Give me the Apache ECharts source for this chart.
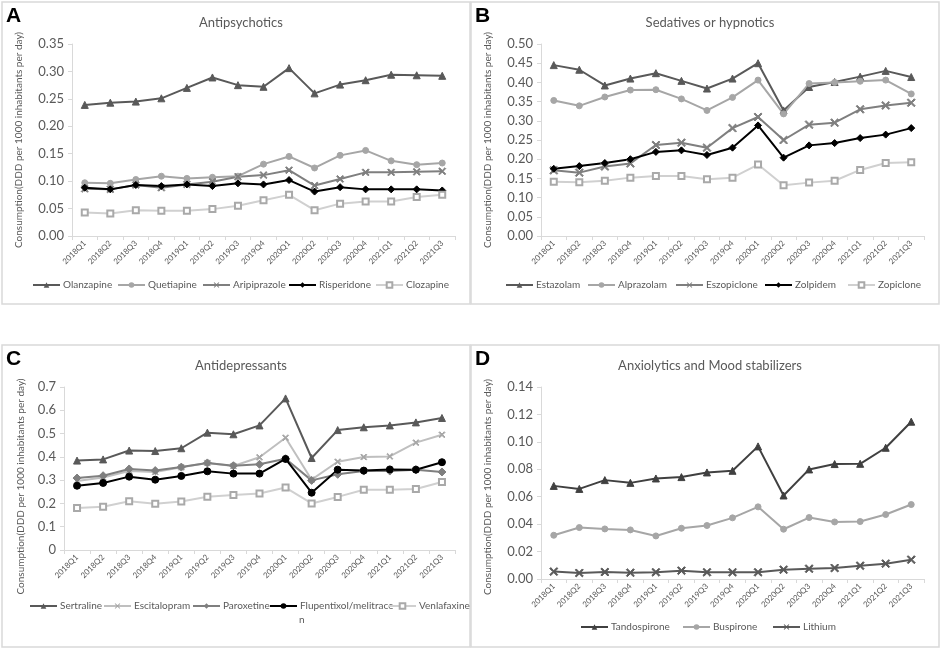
<!DOCTYPE html>
<html><head><meta charset="utf-8">
<script src="https://cdn.jsdelivr.net/npm/echarts@6/dist/echarts.min.js"></script>
<style>html,body{margin:0;padding:0;background:#fff}#c{width:941px;height:649px}</style>
</head><body><div id="c"></div>
<script>
const quarters = ['2018Q1','2018Q2','2018Q3','2018Q4','2019Q1','2019Q2','2019Q3','2019Q4','2020Q1','2020Q2','2020Q3','2020Q4','2021Q1','2021Q2','2021Q3'];

// Panel A: Antipsychotics
const olanzapine   = [0.239,0.243,0.245,0.251,0.270,0.289,0.275,0.272,0.306,0.260,0.276,0.284,0.294,0.293,0.292];
const quetiapine   = [0.097,0.096,0.103,0.109,0.105,0.107,0.109,0.131,0.145,0.124,0.147,0.156,0.137,0.130,0.133];
const aripiprazole = [0.086,0.085,0.093,0.088,0.094,0.099,0.108,0.111,0.120,0.092,0.104,0.116,0.116,0.117,0.118];
const risperidone  = [0.088,0.085,0.093,0.091,0.094,0.091,0.096,0.094,0.102,0.081,0.089,0.085,0.085,0.085,0.083];
const clozapine    = [0.043,0.041,0.047,0.046,0.046,0.049,0.055,0.065,0.075,0.047,0.059,0.063,0.063,0.071,0.075];

// Panel B: Sedatives or hypnotics
const estazolam   = [0.445,0.433,0.392,0.410,0.424,0.404,0.384,0.410,0.450,0.327,0.388,0.401,0.415,0.430,0.414];
const alprazolam  = [0.353,0.339,0.362,0.380,0.381,0.357,0.327,0.361,0.406,0.318,0.397,0.400,0.403,0.406,0.370];
const eszopiclone = [0.171,0.165,0.181,0.189,0.237,0.243,0.230,0.281,0.310,0.250,0.290,0.295,0.330,0.340,0.347];
const zolpidem    = [0.175,0.182,0.190,0.200,0.219,0.223,0.211,0.230,0.288,0.204,0.236,0.242,0.255,0.264,0.281];
const zopiclone   = [0.141,0.140,0.144,0.152,0.156,0.156,0.148,0.152,0.186,0.132,0.139,0.144,0.172,0.190,0.192];

// Panel C: Antidepressants
const sertraline   = [0.384,0.389,0.427,0.425,0.437,0.504,0.497,0.535,0.651,0.395,0.515,0.527,0.535,0.548,0.567];
const escitalopram = [0.296,0.311,0.339,0.335,0.355,0.374,0.361,0.398,0.482,0.302,0.379,0.399,0.402,0.461,0.495];
const paroxetine   = [0.309,0.319,0.348,0.341,0.356,0.374,0.362,0.368,0.392,0.299,0.325,0.339,0.339,0.345,0.335];
const flupentixol  = [0.276,0.288,0.315,0.302,0.318,0.338,0.328,0.328,0.391,0.246,0.345,0.341,0.346,0.345,0.377];
const venlafaxine  = [0.180,0.186,0.209,0.199,0.208,0.229,0.236,0.243,0.268,0.200,0.228,0.259,0.259,0.262,0.292];

// Panel D: Anxiolytics and Mood stabilizers
const tandospirone = [0.0679,0.0657,0.0721,0.0701,0.0733,0.0743,0.0777,0.0789,0.0967,0.0609,0.0799,0.0838,0.0840,0.0957,0.1147];
const buspirone    = [0.0319,0.0375,0.0365,0.0358,0.0314,0.0370,0.0390,0.0446,0.0526,0.0363,0.0448,0.0416,0.0419,0.0470,0.0543];
const lithium      = [0.0054,0.0044,0.0051,0.0046,0.0049,0.0061,0.0049,0.0049,0.0049,0.0068,0.0075,0.0080,0.0097,0.0112,0.0141];

const FONT = 'Lato, "Open Sans", sans-serif';
const TXT = '#595959';
const AXC = '#d9d9d9';
const CROSS = 'path://M0,1.2L1.2,0L5,3.8L8.8,0L10,1.2L6.2,5L10,8.8L8.8,10L5,6.2L1.2,10L0,8.8L3.8,5Z';

const panels = [
  {letter:'A', title:'Antipsychotics', box:[2,2,468,302], grid:{left:72,top:44,width:383,height:192},
   max:0.35, interval:0.05, dec:2, titleY:11, legendY:286, nameGap:48, namePad:[0,0,0,0],
   legendX:[32,117,202,288,375],
   series:[
     ['Olanzapine', olanzapine, '#595959','#595959','triangle',7],
     ['Quetiapine', quetiapine, '#a6a6a6','#a6a6a6','circle',6],
     ['Aripiprazole', aripiprazole, '#7f7f7f','#7f7f7f',CROSS,7],
     ['Risperidone', risperidone, '#000000','#000000','diamond',7],
     ['Clozapine', clozapine, '#d0d0d0','#a9a9a9','emptyRect',6]
   ]},
  {letter:'B', title:'Sedatives or hypnotics', box:[471,2,468,302], grid:{left:541,top:44,width:383,height:192},
   max:0.5, interval:0.05, dec:2, titleY:11, legendY:286, nameGap:48, namePad:[0,0,0,0],
   legendX:[505,587,675,764,847],
   series:[
     ['Estazolam', estazolam, '#595959','#595959','triangle',7],
     ['Alprazolam', alprazolam, '#a6a6a6','#a6a6a6','circle',6],
     ['Eszopiclone', eszopiclone, '#7f7f7f','#7f7f7f',CROSS,8],
     ['Zolpidem', zolpidem, '#000000','#000000','diamond',7],
     ['Zopiclone', zopiclone, '#d0d0d0','#a9a9a9','emptyRect',6]
   ]},
  {letter:'C', title:'Antidepressants', box:[2,345,468,302], grid:{left:64,top:387,width:391,height:163},
   max:0.7, interval:0.1, dec:1, titleY:354, legendY:607, nameGap:38, namePad:[0,36,0,0],
   legendX:[29,103,192,269,388],
   series:[
     ['Sertraline', sertraline, '#595959','#595959','triangle',7],
     ['Escitalopram', escitalopram, '#bfbfbf','#a6a6a6',CROSS,6],
     ['Paroxetine', paroxetine, '#7f7f7f','#7f7f7f','diamond',8],
     ['Flupentixol/melitracen', flupentixol, '#000000','#000000','circle',7],
     ['Venlafaxine', venlafaxine, '#d0d0d0','#a9a9a9','emptyRect',6]
   ]},
  {letter:'D', title:'Anxiolytics and Mood stabilizers', box:[471,345,468,302], grid:{left:541,top:387,width:383,height:192},
   max:0.14, interval:0.02, dec:2, titleY:354, legendY:628, nameGap:48, namePad:[0,8,0,0],
   legendX:[580,682,772],
   series:[
     ['Tandospirone', tandospirone, '#404040','#404040','triangle',7],
     ['Buspirone', buspirone, '#a6a6a6','#a6a6a6','circle',6],
     ['Lithium', lithium, '#595959','#595959',CROSS,8]
   ]}
];

const option = {
  backgroundColor:'#fff',
  animation:false,
  title:[], grid:[], xAxis:[], yAxis:[], legend:[], series:[], graphic:[]
};

panels.forEach((p,i)=>{
  option.graphic.push({type:'rect', shape:{x:p.box[0],y:p.box[1],width:p.box[2],height:p.box[3]},
    style:{fill:'none',stroke:'#d9d9d9',lineWidth:1.5}, z:0});
  option.graphic.push({type:'text', left:p.box[0]+4, top:p.box[1]+4,
    style:{text:p.letter, font:'bold 21px "Liberation Sans", Arial, sans-serif', fill:'#000'}});
  option.title.push({text:p.title, left:p.box[0]+p.box[2]/2, top:p.titleY, textAlign:'center',
    textStyle:{fontFamily:FONT, fontSize:13, fontWeight:'normal', color:TXT}});
  option.grid.push(Object.assign({containLabel:false}, p.grid));
  option.xAxis.push({type:'category', gridIndex:i, data:quarters, boundaryGap:true,
    axisLine:{lineStyle:{color:AXC,width:1}}, axisTick:{show:true,length:4,lineStyle:{color:AXC}},
    axisLabel:{rotate:45, fontSize:8, color:TXT, fontFamily:FONT, margin:6, interval:0}});
  option.yAxis.push({type:'value', gridIndex:i, min:0, max:p.max, interval:p.interval,
    name:'Consumption(DDD per 1000 inhabitants per day)', nameLocation:'middle', nameGap:p.nameGap,
    nameTextStyle:{fontFamily:FONT, fontSize:10, color:TXT, padding:p.namePad},
    axisLine:{show:true, lineStyle:{color:AXC}}, axisTick:{show:true, length:4, lineStyle:{color:AXC}},
    splitLine:{show:false},
    axisLabel:{fontSize:13, color:TXT, fontFamily:FONT, margin:8,
      formatter:(v)=> (p.dec===1 && v===0) ? '0' : v.toFixed(p.dec)}});
  p.series.forEach((s,k)=>{
    option.series.push({type:'line', name:s[0], data:s[1], xAxisIndex:i, yAxisIndex:i,
      symbol:s[4], symbolSize:s[5], showSymbol:true,
      lineStyle:{color:s[2], width:2}, itemStyle:{color:s[3], borderColor:s[3]}});
    option.legend.push({data:[s[0]], left:p.legendX[k], top:p.legendY-6, orient:'horizontal',
      itemWidth:27, itemHeight:7, padding:0,
      textStyle:{fontFamily:FONT, fontSize:10, color:TXT, padding:[0,0,0,-2]},
      formatter:(n)=> n==='Flupentixol/melitracen' ? 'Flupentixol/melitrace' : n});
  });
});
option.graphic.push({type:'text', left:299, top:615,
  style:{text:'n', font:'10px Lato, "Open Sans", sans-serif', fill:TXT}});

const chart = echarts.init(document.getElementById('c'), null, {renderer:'canvas'});
chart.setOption(option);
</script>
</body></html>
